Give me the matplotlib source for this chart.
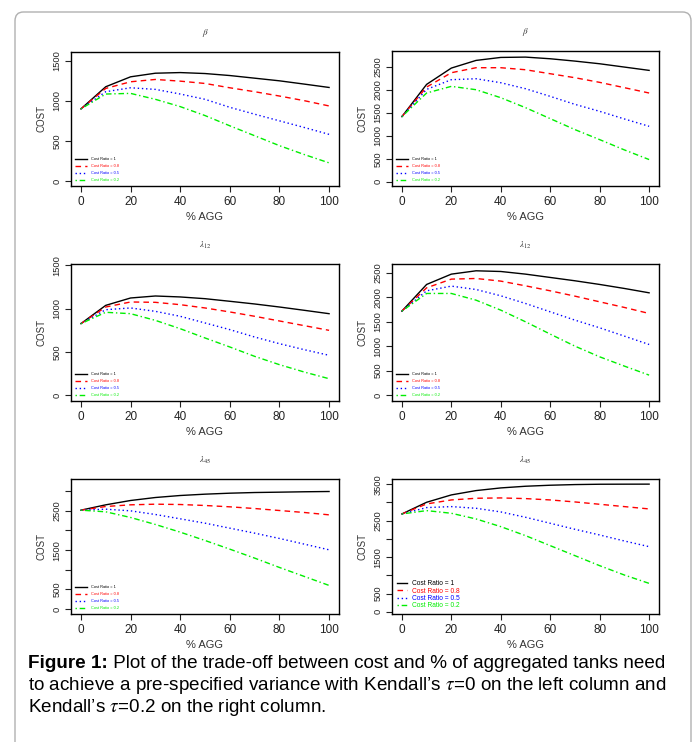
import numpy as np
import matplotlib
matplotlib.use("Agg")
import matplotlib.pyplot as plt
from matplotlib.patches import FancyBboxPatch

plt.rcParams["font.family"] = ["Liberation Sans", "DejaVu Sans"]
plt.rcParams["mathtext.fontset"] = "stix"

# % of aggregated tanks
agg = [0, 10, 20, 30, 40, 50, 60, 70, 80, 90, 100]
ratios = ["1", "0.8", "0.5", "0.2"]

# cost curves, one row per cost ratio (1, 0.8, 0.5, 0.2)
beta_tau0 = [
    [901, 1178, 1302, 1347, 1355, 1343, 1318, 1285, 1252, 1211, 1169],
    [901, 1157, 1240, 1269, 1248, 1219, 1165, 1116, 1062, 1004, 938],
    [901, 1116, 1165, 1145, 1087, 1021, 921, 835, 752, 669, 583],
    [901, 1087, 1095, 1021, 930, 818, 690, 566, 442, 331, 227],
]
beta_tau02 = [
    [1420, 2123, 2478, 2645, 2710, 2717, 2681, 2630, 2572, 2500, 2428],
    [1420, 2065, 2377, 2486, 2486, 2442, 2355, 2268, 2167, 2051, 1935],
    [1420, 2014, 2225, 2246, 2159, 2029, 1862, 1688, 1536, 1370, 1210],
    [1420, 1935, 2080, 2007, 1833, 1616, 1377, 1138, 920, 696, 486],
]
lam12_tau0 = [
    [827, 1038, 1123, 1146, 1135, 1115, 1085, 1054, 1019, 981, 942],
    [827, 1019, 1077, 1073, 1046, 1008, 962, 912, 858, 804, 750],
    [827, 988, 1008, 969, 912, 835, 758, 673, 596, 527, 462],
    [827, 958, 942, 865, 769, 662, 558, 450, 354, 269, 192],
]
lam12_tau02 = [
    [1717, 2262, 2473, 2541, 2527, 2473, 2405, 2337, 2262, 2180, 2091],
    [1717, 2193, 2371, 2384, 2330, 2234, 2132, 2023, 1907, 1792, 1669],
    [1717, 2132, 2228, 2159, 2030, 1873, 1703, 1533, 1376, 1206, 1035],
    [1717, 2078, 2078, 1941, 1737, 1499, 1247, 1001, 783, 593, 409],
]
lam45_tau0 = [
    [2517, 2653, 2763, 2839, 2890, 2924, 2949, 2966, 2975, 2985, 2992],
    [2517, 2610, 2653, 2669, 2661, 2636, 2602, 2559, 2508, 2458, 2398],
    [2517, 2542, 2500, 2407, 2297, 2186, 2059, 1932, 1797, 1653, 1508],
    [2517, 2475, 2331, 2153, 1958, 1746, 1525, 1297, 1059, 831, 602],
]
lam45_tau02 = [
    [2685, 3006, 3208, 3327, 3400, 3446, 3474, 3492, 3501, 3503, 3504],
    [2685, 2960, 3070, 3116, 3125, 3107, 3070, 3015, 2951, 2887, 2823],
    [2685, 2860, 2887, 2841, 2741, 2594, 2429, 2264, 2108, 1943, 1787],
    [2685, 2777, 2704, 2548, 2337, 2090, 1815, 1540, 1265, 1008, 779],
]

colors = ["black", "red", "blue", "#00ee00"]
dashes = [None, (4, 3), (1, 2), (1, 2, 4, 2)]

fig = plt.figure(figsize=(6.97, 7.42), dpi=100)
W, H = 697, 742

def px_axes(l, t, r, b):
    return fig.add_axes([l / W, 1 - b / H, (r - l) / W, (b - t) / H])

small_leg = dict(fontsize=2.8, handlelength=3.1, handletextpad=1.0,
                 labelspacing=0.75, borderaxespad=0.6)
big_leg = dict(fontsize=4.8, handlelength=1.6, handletextpad=0.7,
               labelspacing=0.05, borderaxespad=0.3)

panels = [
    # data, title, (l,t,r,b), ylim, yticks, labelled ticks, legend style
    (beta_tau0, r"$\beta$", (71, 52, 339, 186), (-62, 1612), range(0, 1501, 500), None, small_leg),
    (beta_tau02, r"$\beta$", (392, 51, 659, 186), (-90, 2850), range(0, 2501, 500), None, small_leg),
    (lam12_tau0, r"$\lambda_{12}$", (71, 264, 339, 401), (-65, 1515), range(0, 1501, 500), None, small_leg),
    (lam12_tau02, r"$\lambda_{12}$", (392, 264, 659, 401), (-120, 2680), range(0, 2501, 500), None, small_leg),
    (lam45_tau0, r"$\lambda_{45}$", (71, 479, 339, 614), (-125, 3310), range(0, 3001, 500), [0, 500, 1500, 2500], small_leg),
    (lam45_tau02, r"$\lambda_{45}$", (392, 479, 659, 614), (-62, 3645), range(0, 3501, 500), [0, 500, 1500, 2500, 3500], big_leg),
]

for data, title, box, ylim, yt, ylab, leg_kw in panels:
    ax = px_axes(*box)
    for i in range(4):
        ln, = ax.plot(agg, data[i], color=colors[i], lw=1.0,
                      label="Cost Ratio = " + ratios[i])
        if dashes[i]:
            ln.set_dashes(dashes[i])
    ax.set_xlim(-4, 104)
    ax.set_ylim(*ylim)
    ax.set_xticks([0, 20, 40, 60, 80, 100])
    yt = list(yt)
    ax.set_yticks(yt)
    if ylab is None:
        ax.set_yticklabels([str(v) for v in yt])
    else:
        ax.set_yticklabels([str(v) if v in ylab else "" for v in yt])
    for lab in ax.get_yticklabels():
        lab.set_rotation(90)
        lab.set_va("center")
    ax.tick_params(axis="both", direction="out", length=4, width=0.8,
                   colors="#222222")
    ax.tick_params(axis="x", labelsize=8.5, pad=3)
    ax.tick_params(axis="y", labelsize=6.7, pad=3)
    for s in ax.spines.values():
        s.set_linewidth(1.0)
    ax.set_title(title, fontsize=6.5, pad=12, color="#333333")
    ax.set_xlabel("% AGG", fontsize=8, labelpad=3, color="#333333")
    ax.set_ylabel("COST", fontsize=7, labelpad=4, color="#333333")
    ax.legend(loc="lower left", frameon=False, labelcolor="linecolor", **leg_kw)

# rounded frame around the figure
frame = FancyBboxPatch((15 / W, -0.05), 676 / W, 1.05 - 12 / H,
                       boxstyle="round,pad=0,rounding_size=0.012",
                       transform=fig.transFigure, fill=False,
                       edgecolor="#b0b0b0", lw=1.0)
fig.patches.append(frame)

# caption
fs = 13.6
t1 = fig.text(28 / W, 1 - 664 / H, "Figure 1:", fontsize=fs, fontweight="bold",
              va="center")
plt.annotate(" Plot of the trade-off between cost and % of aggregated tanks need",
             xy=(1, 0), xycoords=t1, va="bottom", fontsize=fs,
             annotation_clip=False)
fig.text(28 / W, 1 - 686 / H,
         "to achieve a pre-specified variance with Kendall\u2019s $\\tau$=0 on the left column and",
         fontsize=fs, va="center")
fig.text(28 / W, 1 - 708 / H,
         "Kendall\u2019s $\\tau$=0.2 on the right column.",
         fontsize=fs, va="center")

fig.savefig("out.png", dpi=100)
